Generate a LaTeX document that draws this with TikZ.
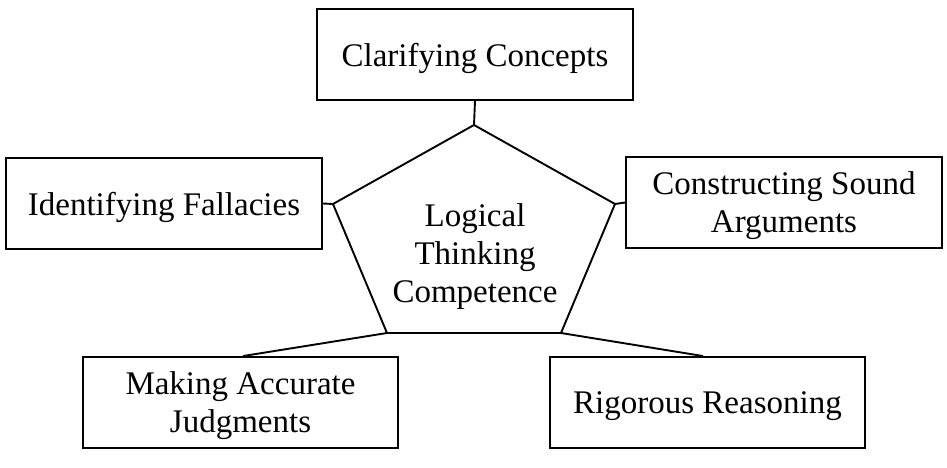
\documentclass[tikz,border=0pt]{standalone}
\usepackage{fontspec}
\setmainfont{Liberation Serif}
\begin{document}
\begin{tikzpicture}[x=1pt,y=-1pt,
  line width=1.9pt,
  box/.style={draw, minimum height=91pt, inner sep=0pt, align=center,
    text depth=0pt, font=\fontsize{33}{38}\selectfont},
  conn/.style={line width=1.9pt}]
\useasboundingbox (0,0) rectangle (947,468);
% boxes
\node[box, minimum width=316pt] (cc)  at (475,54.5)  {Clarifying Concepts};
\node[box, minimum width=316pt] (idf) at (164,203.5) {Identifying Fallacies};
\node[box, minimum width=316pt] (csa) at (784,202.5) {Constructing Sound\\Arguments};
\node[box, minimum width=315pt] (maj) at (240.5,402.5) {Making Accurate\\Judgments};
\node[box, minimum width=315pt] (rr)  at (707.5,402.5) {Rigorous Reasoning};
% pentagon
\coordinate (pt) at (474,125);
\coordinate (pl) at (333,204);
\coordinate (pr) at (615,204);
\coordinate (pbl) at (387,333);
\coordinate (pbr) at (561,333);
\draw[line join=miter] (pt) -- (pr) -- (pbr) -- (pbl) -- (pl) -- cycle;
\node[align=center, inner sep=0pt, text depth=0pt, font=\fontsize{33}{38}\selectfont] (ltc) at (475,253.5)
  {Logical\\Thinking\\Competence};
% connectors
\draw[conn] (pt) -- (cc.south);
\draw[conn] (pl) -- (idf.east);
\draw[conn] (pr) -- (csa.west);
\draw[conn] (pbl) -- ([xshift=2.5pt]maj.north);
\draw[conn] (pbr) -- ([xshift=-4.5pt]rr.north);
\end{tikzpicture}
\end{document}
